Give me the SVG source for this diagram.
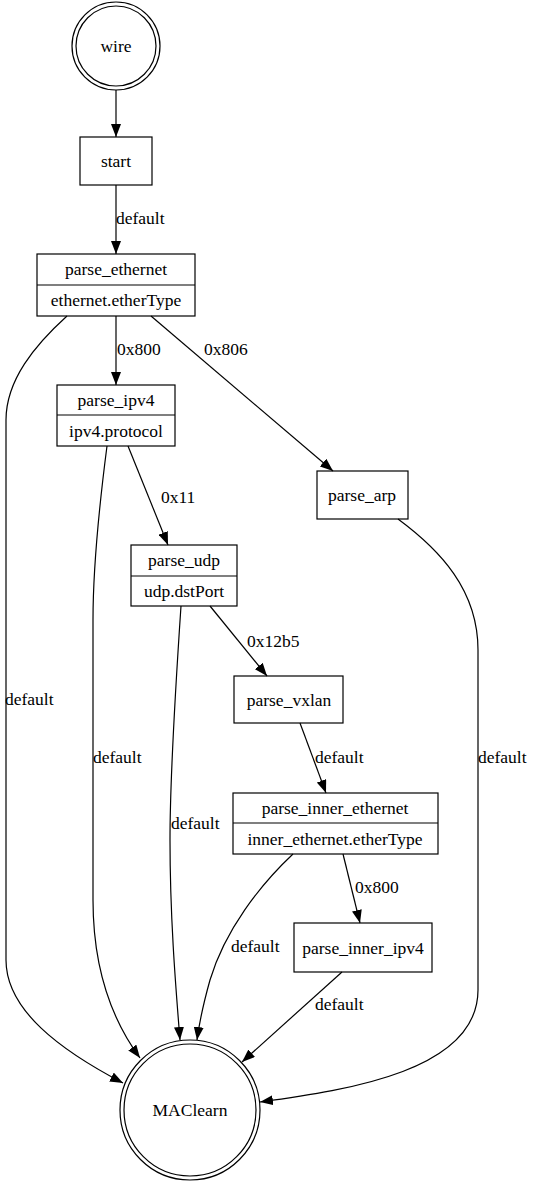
<svg xmlns="http://www.w3.org/2000/svg" width="535" height="1186" viewBox="0 0 535 1186">
<style>
text{font-family:"Liberation Serif","Times New Roman",serif;font-size:17.5px;fill:#000}
.n text{text-anchor:middle}
.n rect,.n circle,.n line{fill:none;stroke:#000;stroke-width:1.2}
.e path{fill:none;stroke:#000;stroke-width:1.2;marker-end:url(#ah)}
</style>
<defs>
<marker id="ah" markerUnits="userSpaceOnUse" markerWidth="13" markerHeight="10" refX="13" refY="5" orient="auto">
<path d="M0,0 L13,5 L0,10 z" fill="#000"/>
</marker>
</defs>
<rect width="535" height="1186" fill="#fff"/>
<g id="edges" class="e">
<path d="M116,90 L116,137"/>
<path d="M116,185 L116,254"/>
<path d="M116,316 L116,385"/>
<path d="M151,316 L333,471"/>
<path d="M128,446 L168,545"/>
<path d="M210,606 L267,676"/>
<path d="M300,723 L326,793"/>
<path d="M343,854 L360,923"/>
<path d="M342,972 L242,1062"/>
<path d="M293,854 C260,885 225,930 210,980 C203,1005 199,1025 197,1040"/>
<path d="M181,606 C176,680 170,780 170,840 C170,920 176,990 180,1040"/>
<path d="M107,446 C100,500 93,560 93,620 L93,900 C93,970 112,1020 140,1058"/>
<path d="M67,316 C35,345 6,380 6,420 L6,960 C6,1010 60,1050 123,1083"/>
<path d="M398,519 C440,550 478,590 478,650 L478,990 C478,1070 350,1090 260,1102"/>
<text x="116" y="224">default</text>
<text x="117" y="355">0x800</text>
<text x="204" y="355">0x806</text>
<text x="161" y="503">0x11</text>
<text x="247" y="647">0x12b5</text>
<text x="315" y="763">default</text>
<text x="355" y="893">0x800</text>
<text x="231" y="952">default</text>
<text x="315" y="1010">default</text>
<text x="5" y="705">default</text>
<text x="93" y="763">default</text>
<text x="171" y="829">default</text>
<text x="478" y="763">default</text>
</g>
<g id="wire" class="n"><circle cx="116" cy="46" r="44"/><circle cx="116" cy="46" r="40"/><text x="116" y="52">wire</text></g>
<g id="start" class="n"><rect x="80" y="137" width="72" height="48"/><text x="116" y="167">start</text></g>
<g id="parse_ethernet" class="n"><rect x="37" y="254" width="158" height="62"/><line x1="37" y1="285" x2="195" y2="285"/><text x="116" y="275">parse_ethernet</text><text x="116" y="306">ethernet.etherType</text></g>
<g id="parse_ipv4" class="n"><rect x="57" y="385" width="118" height="61"/><line x1="57" y1="415" x2="175" y2="415"/><text x="116" y="406">parse_ipv4</text><text x="116" y="437">ipv4.protocol</text></g>
<g id="parse_arp" class="n"><rect x="317" y="471" width="91" height="48"/><text x="362" y="501">parse_arp</text></g>
<g id="parse_udp" class="n"><rect x="131" y="545" width="106" height="61"/><line x1="131" y1="576" x2="237" y2="576"/><text x="184" y="566">parse_udp</text><text x="184" y="597">udp.dstPort</text></g>
<g id="parse_vxlan" class="n"><rect x="234" y="676" width="109" height="47"/><text x="289" y="706">parse_vxlan</text></g>
<g id="parse_inner_ethernet" class="n"><rect x="233" y="793" width="205" height="61"/><line x1="233" y1="823" x2="438" y2="823"/><text x="335" y="814">parse_inner_ethernet</text><text x="335" y="845">inner_ethernet.etherType</text></g>
<g id="parse_inner_ipv4" class="n"><rect x="294" y="923" width="138" height="49"/><text x="363" y="954">parse_inner_ipv4</text></g>
<g id="MAClearn" class="n"><circle cx="190" cy="1110" r="70"/><circle cx="190" cy="1110" r="66"/><text x="190" y="1116">MAClearn</text></g>
</svg>
